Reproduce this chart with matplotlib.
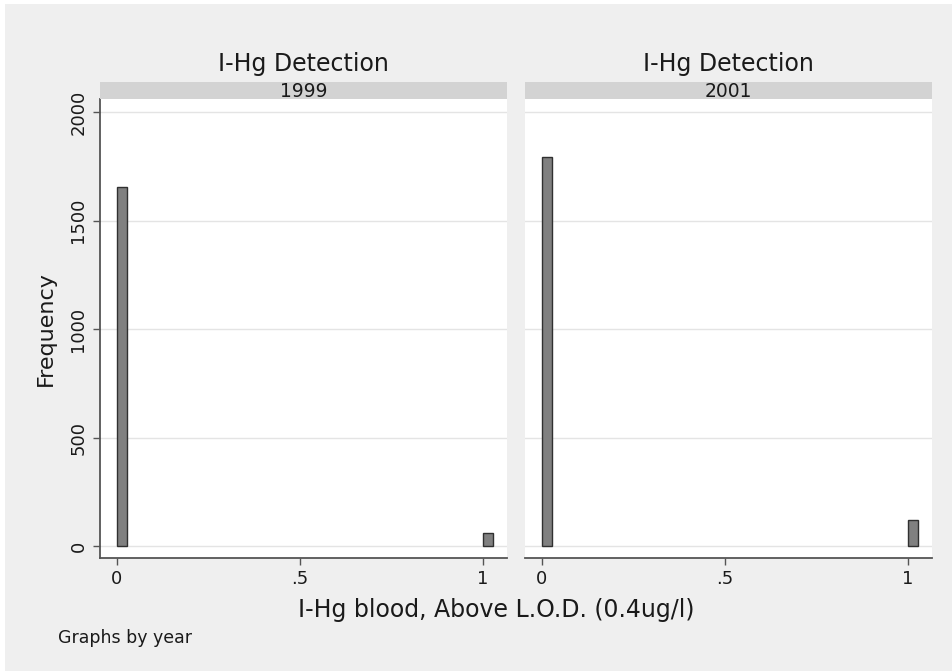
import matplotlib
matplotlib.use("Agg")
import matplotlib.pyplot as plt
import numpy as np

# data
years = ["1999", "2001"]
bins = [0, 1]
freq_1999 = [1654, 60]
freq_2001 = [1793, 120]
freqs = [freq_1999, freq_2001]
yticks = [0, 500, 1000, 1500, 2000]
xticks = [0, 0.5, 1]
xticklabels = ["0", ".5", "1"]

W, H = 953, 671
fig = plt.figure(figsize=(W / 100, H / 100), dpi=100)
fig.patch.set_facecolor("white")


def px(x0, y0, x1, y1):
    return [x0 / W, 1 - y1 / H, (x1 - x0) / W, (y1 - y0) / H]


# grey graph region (white sliver top/left)
bg = fig.add_axes(px(5, 4, W, H), zorder=-10)
bg.set_facecolor("#efefef")
bg.set_xticks([])
bg.set_yticks([])
for s in bg.spines.values():
    s.set_visible(False)

panels_x = [(100, 507), (525, 932)]
axline = "#555555"
txt = "#1a1a1a"

for i, (yr, vals) in enumerate(zip(years, freqs)):
    x0, x1 = panels_x[i]
    ax = fig.add_axes(px(x0, 99, x1, 558))
    ax.set_facecolor("white")
    ax.bar(bins, vals, width=0.029, align="edge", color="#808080",
           edgecolor="#303030", linewidth=1.0, zorder=3)
    ax.set_xlim(-0.046, 1.066)
    ax.set_ylim(-55, 2060)
    for yv in yticks:
        ax.axhline(yv, color="#e4e4e4", linewidth=1.0, zorder=1)
    ax.set_xticks(xticks)
    ax.set_xticklabels(xticklabels, fontsize=13, color=txt)
    ax.set_yticks(yticks)
    for s in ["top", "right"]:
        ax.spines[s].set_visible(False)
    ax.spines["bottom"].set_color(axline)
    ax.spines["bottom"].set_linewidth(1.3)
    ax.tick_params(axis="x", length=5, width=1, color=axline, pad=4)
    if i == 0:
        ax.spines["left"].set_color(axline)
        ax.spines["left"].set_linewidth(1.3)
        ax.set_yticklabels([str(v) for v in yticks], rotation=90, va="center",
                           fontsize=13, color=txt)
        ax.tick_params(axis="y", length=5, width=1, color=axline, pad=4)
        ax.set_ylabel("Frequency", fontsize=16, labelpad=10, color=txt)
    else:
        ax.spines["left"].set_visible(False)
        ax.tick_params(axis="y", left=False, labelleft=False)

    # strip header with year
    sx = fig.add_axes(px(x0, 82, x1, 99))
    sx.set_facecolor("#d3d3d3")
    sx.set_xticks([])
    sx.set_yticks([])
    for s in sx.spines.values():
        s.set_visible(False)
    sx.text(0.5, 0.45, yr, ha="center", va="center", fontsize=13.5,
            color=txt, transform=sx.transAxes)
    fig.text((x0 + x1) / 2 / W, 1 - 64 / H, "I-Hg Detection", ha="center",
             va="center", fontsize=17, color=txt)

fig.text(496 / W, 1 - 610 / H, "I-Hg blood, Above L.O.D. (0.4ug/l)",
         ha="center", va="center", fontsize=17, color=txt)
fig.text(58 / W, 1 - 638 / H, "Graphs by year", ha="left", va="center",
         fontsize=12.5, color=txt)

fig.savefig("out.png", dpi=100, facecolor=fig.get_facecolor())
